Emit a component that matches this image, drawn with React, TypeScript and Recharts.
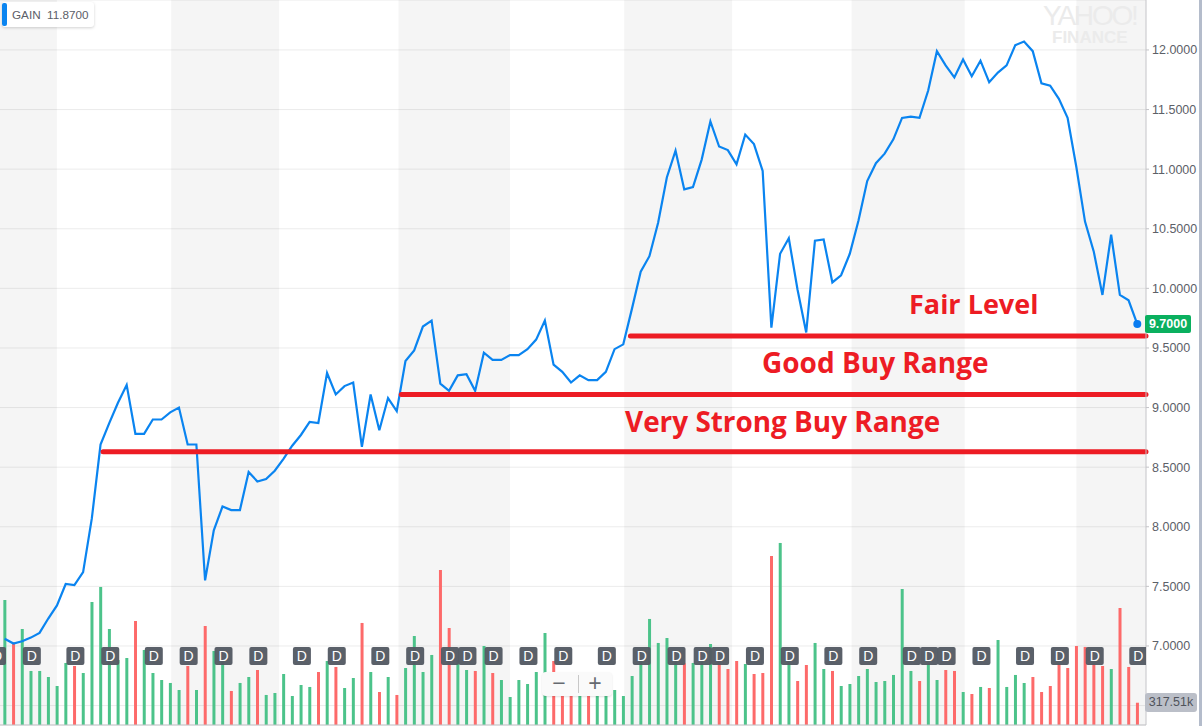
import {
  ComposedChart,
  CartesianGrid,
  XAxis,
  YAxis,
  Bar,
  Cell,
  Line,
  Scatter,
  ReferenceArea,
  ReferenceLine,
  ReferenceDot,
} from "recharts";

const PRICES = [
  7.06, 7.02, 7.04, 7.07, 7.11, 7.23, 7.34, 7.52, 7.51, 7.62, 8.07, 8.69, 8.87, 9.04, 9.19, 8.78, 8.78, 8.9, 8.9, 8.96,
  9.0, 8.69, 8.69, 7.55, 7.97, 8.17, 8.14, 8.14, 8.46, 8.38, 8.4, 8.47, 8.57, 8.68, 8.77, 8.88, 8.87, 9.29, 9.11, 9.18,
  9.21, 8.67, 9.11, 8.81, 9.08, 8.97, 9.39, 9.48, 9.68, 9.73, 9.2, 9.14, 9.27, 9.28, 9.14, 9.46, 9.4, 9.4, 9.44, 9.44,
  9.49, 9.57, 9.73, 9.36, 9.3, 9.21, 9.27, 9.23, 9.23, 9.3, 9.49, 9.53, 9.83, 10.14, 10.27, 10.55, 10.93, 11.155, 10.83, 10.85,
  11.08, 11.4, 11.19, 11.16, 11.04, 11.29, 11.21, 10.985, 9.67, 10.29, 10.42, 9.99, 9.63, 10.4, 10.41, 10.05, 10.11, 10.29, 10.57, 10.9,
  11.05, 11.13, 11.25, 11.43, 11.44, 11.43, 11.66, 11.99, 11.87, 11.77, 11.92, 11.78, 11.91, 11.73, 11.81, 11.87, 12.04, 12.07, 11.99, 11.72,
  11.7, 11.59, 11.43, 11.02, 10.56, 10.31, 9.945, 10.45, 9.945, 9.9, 9.7,
];

// thousands of shares
const VOLUMES = [
  1781, 1178, 1368, 770, 770, 684, 556, 884, 841, 741, 1753, 1967, 1368, 926, 955, 1482, 1069, 741, 641, 599,
  499, 841, 499, 1411, 1055, 903, 485, 599, 684, 784, 428, 456, 727, 413, 570, 542, 755, 912, 827, 527,
  670, 1454, 755, 470, 684, 428, 812, 1268, 755, 998, 2209, 1382, 926, 784, 770, 1126, 741, 641, 399, 641,
  584, 755, 1311, 912, 546, 546, 546, 546, 546, 546, 499, 413, 698, 926, 1511, 1169, 1240, 926, 879, 884,
  903, 1154, 926, 798, 912, 869, 727, 741, 2408, 2594, 926, 627, 855, 1169, 798, 770, 556, 584, 698, 798,
  613, 627, 713, 1938, 770, 627, 879, 641, 784, 770, 470, 442, 542, 527, 1211, 542, 713, 599, 684, 470,
  556, 879, 812, 1126, 1112, 879, 841, 798, 1667, 827, 317.51,
];

const DOWN_DAYS = [
  1, 8, 15, 21, 23, 26, 29, 36, 38, 41, 43, 45, 50, 51, 54, 56, 63, 64, 65, 67, 78, 82, 83, 84, 86, 87, 88, 91, 92, 95,
  105, 108, 109, 111, 113, 118, 119, 120, 121, 122, 123, 124, 125, 126, 128, 129, 130,
];

const DIVIDEND_DAYS = [
  -1, 3, 8, 12, 17, 21, 25, 29, 34, 38, 43, 47, 51, 53, 56, 60, 64, 69, 73, 77, 80, 82, 86, 90, 95, 99, 104, 106, 108,
  112, 117, 121, 125, 130,
];

const SHADED_MONTHS = [
  [-0.54, 6.0],
  [19.1, 31.5],
  [45.2, 58.0],
  [71.1, 83.5],
  [97.2, 110.2],
  [123.0, 131.0],
];

const PRICE_TICKS = [6.5, 7, 7.5, 8, 8.5, 9, 9.5, 10, 10.5, 11, 11.5, 12];

const LEVELS = [
  { from: 11.29, price: 8.63 },
  { from: 45.52, price: 9.11 },
  { from: 71.82, price: 9.6 },
];

const NOTES = [
  { text: "Fair Level", left: 909, top: 285, size: 27 },
  { text: "Good Buy Range", left: 762, top: 343, size: 28 },
  { text: "Very Strong Buy Range", left: 625, top: 402, size: 27.9 },
];

const rows = PRICES.map((price, i) => ({ day: i, price, volume: VOLUMES[i] }));
const dividends = DIVIDEND_DAYS.map((day) => ({ day, badge: 6.916 }));

const FONT = '"Liberation Sans", Arial, sans-serif';
const RED = "#ed1c24";

function DividendBadge(props: any) {
  const { cx, cy } = props;
  return (
    <g>
      <rect x={cx + 1 - 9} y={cy - 9} width={18} height={18} rx={2} fill="#555b64" fillOpacity={0.97} />
      <text x={cx + 1} y={cy + 5} textAnchor="middle" fontSize={14} fontFamily={FONT} fill="#fff">
        D
      </text>
    </g>
  );
}

export default function App() {
  return (
    <div
      style={{
        position: "absolute",
        left: 0,
        top: 0,
        width: 1202,
        height: 726,
        overflow: "hidden",
        background: "#fff",
        fontFamily: FONT,
      }}
    >
      <ComposedChart width={1202} height={726} data={rows} margin={{ top: 0, right: 0, bottom: 0, left: 0 }}>
        <CartesianGrid vertical={false} stroke="#ececec" yAxisId="price" xAxisId="day" />
        {/* translucent so the grid still shows through the month bands */}
        {SHADED_MONTHS.map(([a, b]) => (
          <ReferenceArea key={a} x1={a} x2={b} yAxisId="price" xAxisId="day" fill="#000" fillOpacity={0.04} stroke="none" />
        ))}
        <XAxis
          xAxisId="day"
          dataKey="day"
          type="number"
          domain={[-0.54, 131.0]}
          allowDataOverflow
          height={1}
          tick={false}
          tickLine={false}
          axisLine={{ stroke: "#c4c4c8" }}
        />
        <YAxis
          yAxisId="price"
          orientation="right"
          type="number"
          width={56}
          domain={[6.337, 12.419]}
          ticks={PRICE_TICKS}
          interval={0}
          allowDataOverflow
          // the 6.5 label sits under the volume badge in the original
          tickFormatter={(v: number) => (v === 6.5 ? "" : v.toFixed(4))}
          tick={{ fill: "#5c6068", fontSize: 12.5, fontFamily: FONT }}
          tickSize={3}
          tickMargin={3}
          tickLine={{ stroke: "#c4c4c8" }}
          axisLine={{ stroke: "#c4c4c8" }}
        />
        <YAxis yAxisId="volume" hide type="number" domain={[0, 10331]} allowDataOverflow />
        <Bar xAxisId="day" yAxisId="volume" dataKey="volume" barSize={3} isAnimationActive={false}>
          {rows.map((r) => (
            <Cell key={r.day} fill={DOWN_DAYS.includes(r.day) ? "#fd6a6a" : "#4cc38a"} />
          ))}
        </Bar>
        <Line
          xAxisId="day"
          yAxisId="price"
          dataKey="price"
          type="linear"
          stroke="#0a84f0"
          strokeWidth={2.2}
          dot={false}
          activeDot={false}
          isAnimationActive={false}
        />
        <Scatter
          xAxisId="day"
          yAxisId="price"
          data={dividends}
          dataKey="badge"
          shape={DividendBadge}
          isAnimationActive={false}
        />
        {LEVELS.map((l) => (
          <ReferenceLine
            key={l.price}
            xAxisId="day"
            yAxisId="price"
            segment={[
              { x: l.from, y: l.price },
              { x: 131.0, y: l.price },
            ]}
            stroke={RED}
            strokeWidth={5}
            strokeLinecap="round"
            isFront
          />
        ))}
        <ReferenceDot xAxisId="day" yAxisId="price" x={130} y={9.7} r={4} fill="#0a7cf0" stroke="none" isFront />
      </ComposedChart>

      {NOTES.map((n) => (
        <div
          key={n.text}
          style={{
            position: "absolute",
            left: n.left,
            top: n.top,
            fontFamily: '"Open Sans", sans-serif',
            fontWeight: 700,
            fontSize: n.size,
            lineHeight: "38px",
            color: RED,
            whiteSpace: "nowrap",
          }}
        >
          {n.text}
        </div>
      ))}

      {/* series legend */}
      <div
        style={{
          position: "absolute",
          left: 2,
          top: 2,
          width: 92,
          height: 25,
          background: "#fff",
          borderRadius: 3,
          boxShadow: "0 1px 3px rgba(0,0,0,0.18)",
          fontSize: 11.7,
          lineHeight: "25px",
          color: "#5c6068",
          whiteSpace: "nowrap",
        }}
      >
        <div style={{ position: "absolute", left: 0, top: 1, width: 5, height: 23, background: "#0a84f0", borderRadius: 2 }} />
        <span style={{ position: "absolute", left: 10 }}>GAIN</span>
        <span style={{ position: "absolute", left: 45 }}>11.8700</span>
      </div>

      {/* watermark */}
      <div
        style={{
          position: "absolute",
          left: 1043,
          top: 4,
          fontSize: 28,
          lineHeight: "24px",
          letterSpacing: -2.2,
          color: "#ebebeb",
        }}
      >
        YAHOO!
      </div>
      <div
        style={{
          position: "absolute",
          left: 1052,
          top: 31,
          fontSize: 17,
          fontWeight: 700,
          lineHeight: "14px",
          color: "#ebebeb",
        }}
      >
        FINANCE
      </div>

      {/* zoom control */}
      <div
        style={{
          position: "absolute",
          left: 542,
          top: 672,
          width: 70,
          height: 24,
          background: "#fafafa",
          borderRadius: 4,
          boxShadow: "0 1px 2px rgba(0,0,0,0.12)",
          color: "#666a70",
          fontSize: 23,
          lineHeight: "23px",
          textAlign: "center",
        }}
      >
        <span style={{ position: "absolute", left: 5, width: 24 }}>−</span>
        <div style={{ position: "absolute", left: 36, top: 3, width: 1, height: 18, background: "#c8c8c8" }} />
        <span style={{ position: "absolute", left: 41, width: 24 }}>+</span>
      </div>

      {/* last price and last volume */}
      <div
        style={{
          position: "absolute",
          left: 1145,
          top: 315,
          width: 46,
          height: 18,
          background: "#0ab05f",
          borderRadius: 2,
          color: "#fff",
          fontSize: 12.5,
          fontWeight: 700,
          lineHeight: "18px",
          textAlign: "center",
        }}
      >
        9.7000
      </div>
      <div
        style={{
          position: "absolute",
          left: 1145,
          top: 693,
          width: 52,
          height: 19,
          background: "#bbbfc8",
          borderRadius: 3,
          color: "#4f535b",
          fontSize: 12.5,
          lineHeight: "19px",
          textAlign: "center",
        }}
      >
        317.51k
      </div>

      <div style={{ position: "absolute", left: 1199, top: 0, width: 3, height: 726, background: "#b4bccb" }} />
    </div>
  );
}
